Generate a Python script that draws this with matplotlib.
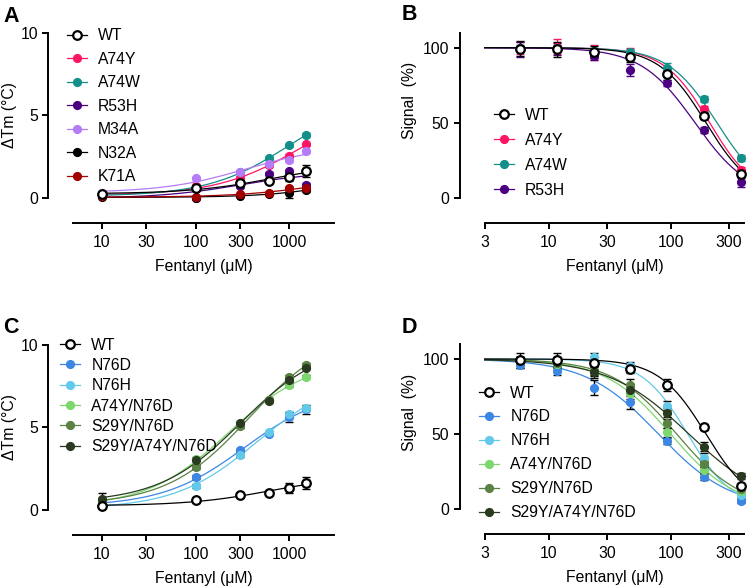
from matplotlib import pyplot as plt
import numpy as np

plt.rcParams['font.family'] = ['Liberation Sans', 'DejaVu Sans']
FS = 11.3
plt.rcParams['font.size'] = FS

# dosis de fentanilo (uM)
dosis_tm = [10, 100, 300, 600, 1000, 1500]
dosis_signal = [5.86, 11.72, 23.44, 46.88, 93.75, 187.5, 375]

# ---- panel A: delta Tm
labels_a = ['WT', 'A74Y', 'A74W', 'R53H', 'M34A', 'N32A', 'K71A']
colors_a = ['black', '#ff1464', '#138f8a', '#4b0082', '#b47cf7', '#000000', '#a30000']
wt_tm = [0.22, 0.58, 0.92, 1.04, 1.30, 1.62]
wt_tm_err = [0.1, 0.08, 0.08, 0.1, 0.3, 0.35]
a74y_tm = [0.12, 0.72, 1.22, 1.98, 2.57, 3.25]
a74y_tm_err = [0.05, 0.1, 0.1, 0.1, 0.1, 0.1]
a74w_tm = [0.18, 0.62, 1.56, 2.40, 3.20, 3.82]
a74w_tm_err = [0.05, 0.1, 0.1, 0.1, 0.1, 0.1]
r53h_tm = [0.22, 0.02, 0.70, 1.48, 1.62, 0.80]
r53h_tm_err = [0.05, 0.05, 0.1, 0.1, 0.1, 0.1]
m34a_tm = [0.30, 1.20, 1.60, 2.05, 2.30, 2.82]
m34a_tm_err = [0.05, 0.1, 0.1, 0.1, 0.1, 0.1]
n32a_tm = [0.08, 0.0, 0.14, 0.26, 0.32, 0.48]
n32a_tm_err = [0.05, 0.05, 0.05, 0.05, 0.3, 0.1]
k71a_tm = [0.10, 0.05, 0.24, 0.32, 0.58, 0.60]
k71a_tm_err = [0.05, 0.05, 0.05, 0.05, 0.1, 0.1]

# ---- panel B: signal
labels_b = ['WT', 'A74Y', 'A74W', 'R53H']
colors_b = ['black', '#ff1464', '#138f8a', '#4b0082']
wt_sig = [99.2, 99.0, 97.3, 93.6, 82.4, 54.7, 15.6]
wt_sig_err = [5, 5, 4, 3, 4, 2, 2]
a74y_sig = [100, 100.5, 97, 96.5, 84, 59.3, 18.5]
a74y_sig_err = [4, 5, 5, 3, 3, 2, 2]
a74w_sig = [100, 100, 97.5, 97, 86.5, 65.8, 26.3]
a74w_sig_err = [2, 2, 2, 2, 3, 2, 2]
r53h_sig = [99, 99, 94.5, 85.2, 76.3, 45.3, 10.3]
r53h_sig_err = [5, 4, 3, 4, 2, 2, 3]

# ---- panel C: delta Tm, dobles/triples
labels_c = ['WT', 'N76D', 'N76H', 'A74Y/N76D', 'S29Y/N76D', 'S29Y/A74Y/N76D']
colors_c = ['black', '#3b87e3', '#62c9ea', '#7dd66e', '#5b8245', '#293a20']
n76d_tm = [0.35, 2.0, 3.6, 4.62, 5.62, 6.08]
n76d_tm_err = [0.1, 0.1, 0.1, 0.1, 0.3, 0.3]
n76h_tm = [0.3, 1.45, 3.3, 4.7, 5.8, 6.15]
n76h_tm_err = [0.1, 0.1, 0.1, 0.1, 0.1, 0.1]
a74y_n76d_tm = [0.5, 3.1, 5.2, 6.65, 7.56, 8.06]
a74y_n76d_tm_err = [0.1, 0.1, 0.1, 0.1, 0.1, 0.1]
s29y_n76d_tm = [0.55, 2.6, 5.05, 6.65, 8.05, 8.78]
s29y_n76d_tm_err = [0.1, 0.1, 0.1, 0.1, 0.1, 0.1]
triple_tm = [0.65, 3.05, 5.24, 6.62, 7.86, 8.6]
triple_tm_err = [0.4, 0.1, 0.1, 0.1, 0.1, 0.1]

# ---- panel D: signal, dobles/triples
labels_d = labels_c
colors_d = colors_c
n76d_sig = [96, 92.3, 80.8, 71.5, 45.6, 21.1, 5.4]
n76d_sig_err = [2, 3, 5, 5, 2, 2, 1.5]
n76h_sig = [99, 99, 101.3, 95, 68.8, 34.1, 9.0]
n76h_sig_err = [2, 2, 3, 3, 3, 3, 2]
a74y_n76d_sig = [99, 96.5, 92.5, 77.5, 51.0, 26.2, 12.0]
a74y_n76d_sig_err = [2, 2, 3, 4, 3, 2, 2]
s29y_n76d_sig = [99, 97, 91.8, 82.5, 57.2, 29.7, 13.2]
s29y_n76d_sig_err = [2, 2, 3, 4, 3, 2, 2]
triple_sig = [99.5, 98, 91.5, 79.5, 64.0, 41.4, 21.9]
triple_sig_err = [2, 2, 4, 4, 3, 3, 2]


def ajuste_hiperbola(x, y):
    # y = y0 + Bmax*x/(Kd+x), busqueda de Kd en rejilla
    x = np.asarray(x, float)
    y = np.asarray(y, float)
    best = None
    for kd in np.logspace(0, 5, 501):
        A = np.column_stack([np.ones_like(x), x / (kd + x)])
        coef = np.linalg.lstsq(A, y, rcond=None)[0]
        err = np.sum((A @ coef - y) ** 2)
        if best is None or err < best[0]:
            best = (err, kd, coef)
    _, kd, coef = best
    xs = np.logspace(np.log10(x.min()), np.log10(x.max()), 200)
    return xs, coef[0] + coef[1] * xs / (kd + xs)


def ajuste_hill(x, y, x0=3):
    # inhibicion con top 100 y bottom 0
    x = np.asarray(x, float)
    y = np.asarray(y, float)
    logic = np.linspace(0.5, 3.5, 301)[:, None, None]
    h = np.linspace(0.3, 5, 236)[None, :, None]
    pred = 100 / (1 + (x[None, None, :] / 10 ** logic) ** h)
    sse = ((pred - y) ** 2).sum(axis=2)
    i, j = np.unravel_index(sse.argmin(), sse.shape)
    xs = np.logspace(np.log10(x0), np.log10(x.max()), 200)
    return xs, 100 / (1 + (xs / 10 ** logic[i, 0, 0]) ** h[0, j, 0])


fig = plt.figure(figsize=(7.47, 5.87), dpi=100)
W, H = 747.0, 587.0


def hacer_ejes(left, top, right, bottom, xlim, ylim, ybounds, yticks, xticks, ylabel, lab_x, lab_y):
    ax = fig.add_axes([left / W, 1 - bottom / H, (right - left) / W, (bottom - top) / H])
    ax.set_xscale('log')
    ax.set_xlim(xlim)
    ax.set_ylim(ylim)
    for s in ['top', 'right']:
        ax.spines[s].set_visible(False)
    ax.spines['left'].set_position(('outward', 18))
    ax.spines['left'].set_bounds(*ybounds)
    ax.spines['left'].set_linewidth(1.4)
    ax.spines['bottom'].set_linewidth(1.4)
    ax.set_yticks(yticks)
    ax.set_xticks(xticks)
    ax.set_xticklabels([str(t) for t in xticks])
    ax.xaxis.set_minor_locator(plt.NullLocator())
    ax.tick_params(width=1.4, length=4, labelsize=FS)
    ax.tick_params(axis='x', pad=5)
    ax.set_xlabel('Fentanyl (μM)', fontsize=FS, labelpad=6)
    ax.set_ylabel(ylabel, fontsize=FS)
    ax.yaxis.set_label_coords(lab_x, lab_y)
    return ax


def dibujar(ax, x, series, errores, colores, etiquetas, ajuste, ecol=None):
    handles = []
    for k in list(range(1, len(series))) + [0]:
        c = colores[k]
        xs, ys = ajuste(x, series[k])
        ax.plot(xs, ys, color=c, lw=0.9, zorder=2 + k * 0.01 + (1 if k == 0 else 0), clip_on=False)
        ax.errorbar(x, series[k], yerr=errores[k], fmt='none', ecolor=ecol or c,
                    elinewidth=1, capsize=3, capthick=1, zorder=3, clip_on=False)
        if k == 0:
            ax.plot(x, series[k], 'o', mfc='white', mec='black', mew=1.6, ms=6.2, zorder=5, clip_on=False)
        else:
            ax.plot(x, series[k], 'o', color=c, ms=5.6, zorder=4, clip_on=False)
    for k, lab in enumerate(etiquetas):
        if k == 0:
            h, = ax.plot([], [], '-o', color='black', mfc='white', mec='black', mew=1.6, ms=6.2, lw=0.9)
        else:
            h, = ax.plot([], [], '-o', color=colores[k], ms=5.6, lw=0.9)
        handles.append(h)
    return handles


def leyenda(ax, handles, labels, x, y, spacing):
    ax.legend(handles, labels, loc='upper left', bbox_to_anchor=(x / W, 1 - y / H),
              bbox_transform=fig.transFigure, frameon=False, fontsize=FS,
              borderpad=0, borderaxespad=0, handlelength=1.3, handletextpad=0.7,
              labelspacing=spacing)


# panel A
axA = hacer_ejes(73.3, 33, 334.3, 222.7, (5, 3000), (-1.5, 10), (0, 10), [0, 5, 10],
                 [10, 30, 100, 300, 1000], 'ΔTm (°C)', -0.215, 0.565)
hA = dibujar(axA, dosis_tm,
             [wt_tm, a74y_tm, a74w_tm, r53h_tm, m34a_tm, n32a_tm, k71a_tm],
             [wt_tm_err, a74y_tm_err, a74w_tm_err, r53h_tm_err, m34a_tm_err, n32a_tm_err, k71a_tm_err],
             colors_a, labels_a, ajuste_hiperbola)
leyenda(axA, hA, labels_a, 66.7, 28.5, 0.54)

# panel B
axB = hacer_ejes(484.7, 32.7, 744, 222.7, (3, 400), (-16.7, 110), (0, 110), [0, 50, 100],
                 [3, 10, 30, 100, 300], 'Signal  (%)', -0.262, 0.642)
hB = dibujar(axB, dosis_signal, [wt_sig, a74y_sig, a74w_sig, r53h_sig],
             [wt_sig_err, a74y_sig_err, a74w_sig_err, r53h_sig_err],
             colors_b, labels_b, ajuste_hill)
leyenda(axB, hB, labels_b, 493.7, 107.5, 0.64)

# panel C
axC = hacer_ejes(73.3, 344.7, 334.3, 534.7, (5, 3000), (-1.5, 10), (0, 10), [0, 5, 10],
                 [10, 30, 100, 300, 1000], 'ΔTm (°C)', -0.215, 0.565)
hC = dibujar(axC, dosis_tm,
             [wt_tm, n76d_tm, n76h_tm, a74y_n76d_tm, s29y_n76d_tm, triple_tm],
             [wt_tm_err, n76d_tm_err, n76h_tm_err, a74y_n76d_tm_err, s29y_n76d_tm_err, triple_tm_err],
             colors_c, labels_c, ajuste_hiperbola, ecol='black')
leyenda(axC, hC, labels_c, 60, 337.5, 0.34)

# panel D
axD = hacer_ejes(484.7, 344, 744, 534, (3, 400), (-16.7, 110), (0, 110), [0, 50, 100],
                 [3, 10, 30, 100, 300], 'Signal  (%)', -0.262, 0.642)
hD = dibujar(axD, dosis_signal,
             [wt_sig, n76d_sig, n76h_sig, a74y_n76d_sig, s29y_n76d_sig, triple_sig],
             [wt_sig_err, n76d_sig_err, n76h_sig_err, a74y_n76d_sig_err, s29y_n76d_sig_err, triple_sig_err],
             colors_d, labels_d, ajuste_hill, ecol='black')
leyenda(axD, hD, labels_d, 479, 385.5, 0.57)

# letras de los paneles
for letra, px, py in [('A', 3, 6), ('B', 402, 4), ('C', 3, 317), ('D', 402, 317)]:
    fig.text(px / W, 1 - py / H, letra, fontsize=15.5, fontweight='bold', ha='left', va='top')

fig.savefig('out.png', dpi=100)
